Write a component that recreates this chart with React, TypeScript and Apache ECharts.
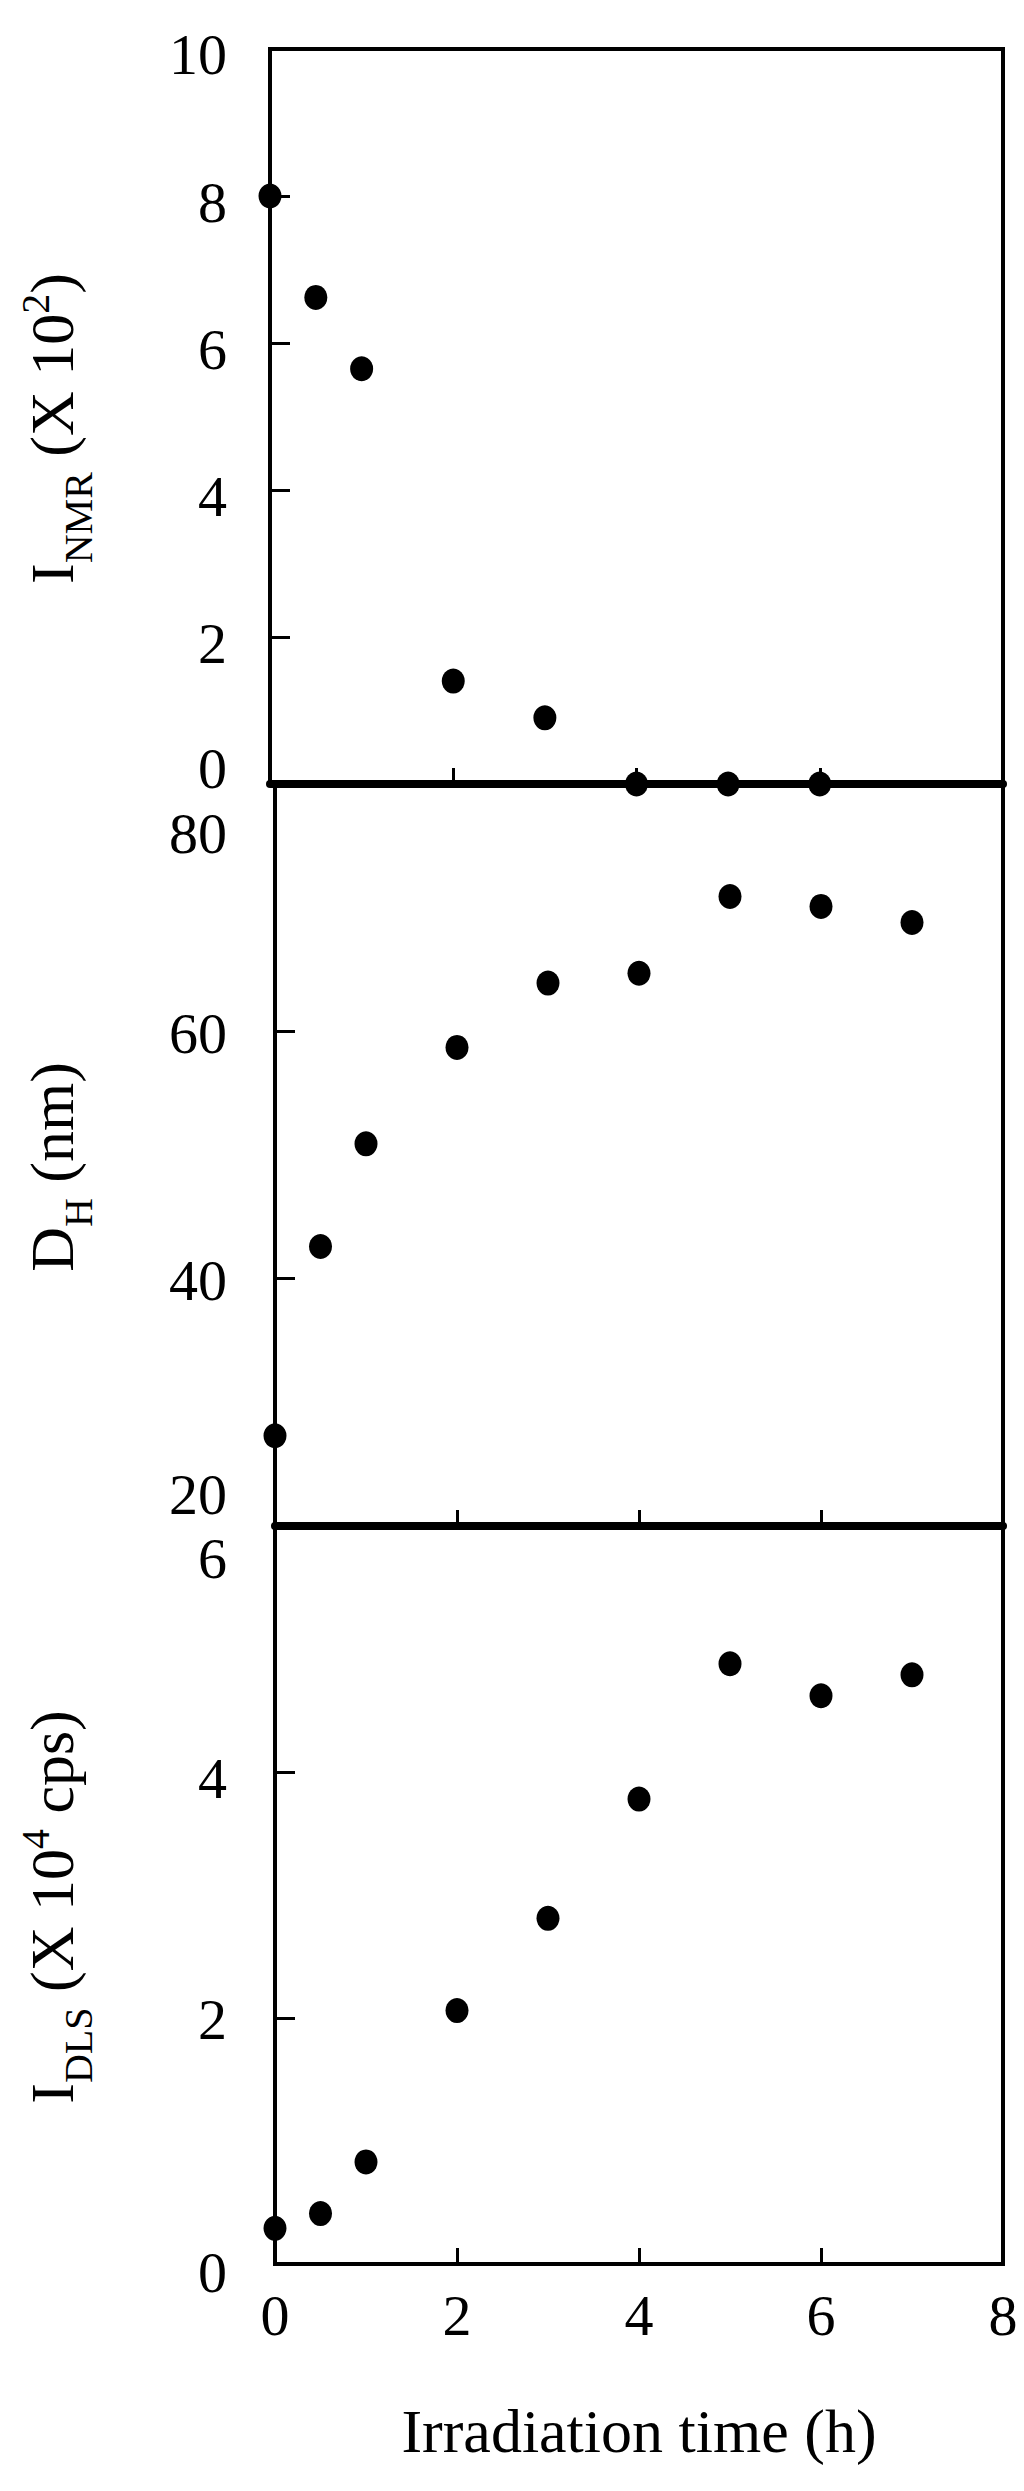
import React, { useEffect, useRef } from 'react'
import * as echarts from 'echarts'

// irradiation time (h) for each panel
const timeNmr = [0, 0.5, 1, 2, 3, 4, 5, 6]
const timeDh = [0, 0.5, 1, 2, 3, 4, 5, 6, 7]
const timeDls = [0, 0.5, 1, 2, 3, 4, 5, 6, 7]

// I_NMR (x 10^2)
const nmrValues = [8.0, 6.62, 5.65, 1.4, 0.9, 0, 0, 0]
// D_H (nm)
const dhValues = [27.3, 42.6, 50.9, 58.7, 63.9, 64.7, 70.9, 70.1, 68.8]
// I_DLS (x 10^4 cps)
const dlsValues = [0.29, 0.41, 0.83, 2.06, 2.81, 3.78, 4.88, 4.62, 4.79]

const xTicks = { min: 0, max: 8, interval: 2 }
const yRanges = [
  { min: 0, max: 10, interval: 2 },
  { min: 20, max: 80, interval: 20 },
  { min: 0, max: 6, interval: 2 }
]

const FONT = '"Liberation Serif", "Times New Roman", serif'

// label shift (px, + is down) per value, per panel
const labelShift: Record<number, number>[] = [
  { 10: 5, 8: 6, 6: 6, 4: 6, 2: 6, 0: -16 },
  { 80: 49, 60: 2, 40: 2, 20: -32 },
  { 6: 32, 4: 6, 2: 1, 0: 8 }
]

const names = [
  '{n|I}{sub|NMR}{n| (X 10}{sup|2}{n|)}',
  '{n|D}{sub|H}{n| (nm)}',
  '{n|I}{sub|DLS}{n| (X 10}{sup|4}{n| cps)}'
]

const App: React.FC = () => {
  const chartRef = useRef<HTMLDivElement>(null)

  useEffect(() => {
    if (!chartRef.current) return
    const chart = echarts.init(chartRef.current, undefined, { renderer: 'svg' })

    const shiftRich: any = {}
    for (let s = -60; s <= 60; s++) {
      const key = 's' + (s < 0 ? 'm' + -s : s)
      shiftRich[key] = {
        fontSize: 58,
        fontFamily: FONT,
        color: '#000',
        padding: s >= 0 ? [2 * s, 0, 0, 0] : [0, 0, -2 * s, 0]
      }
    }
    const keyFor = (s: number) => 's' + (s < 0 ? 'm' + -s : s)

    const nameRich = {
      n: { fontSize: 62, fontFamily: FONT, color: '#000', lineHeight: 62, verticalAlign: 'middle' },
      sub: { fontSize: 40, fontFamily: FONT, color: '#000', height: 10, lineHeight: 10, verticalAlign: 'bottom' },
      sup: { fontSize: 40, fontFamily: FONT, color: '#000', height: 28, lineHeight: 28, verticalAlign: 'top' }
    }

    const grids = [
      { left: 270, right: 21, top: 49, height: 735 },
      { left: 275, right: 21, top: 784, height: 742 },
      { left: 275, right: 21, top: 1526, height: 738 }
    ]

    const option = {
      animation: false,
      grid: grids.map(g => ({ ...g, show: true, borderColor: '#000', borderWidth: 4 })),
      xAxis: [0, 1, 2].map(i => ({
        gridIndex: i,
        type: 'value',
        ...xTicks,
        axisLine: { show: true, lineStyle: { color: '#000', width: i < 2 ? 8 : 4 } },
        axisTick: { show: true, inside: true, length: 16, lineStyle: { color: '#000', width: 3 } },
        axisLabel: {
          show: i === 2,
          margin: 22,
          fontSize: 58,
          fontFamily: FONT,
          color: '#000'
        },
        splitLine: { show: false },
        name: i === 2 ? 'Irradiation time (h)' : '',
        nameLocation: 'middle',
        nameGap: 136,
        nameTextStyle: { fontSize: 62, fontFamily: FONT, color: '#000' }
      })),
      yAxis: [0, 1, 2].map(i => ({
        gridIndex: i,
        type: 'value',
        ...yRanges[i],
        axisLine: { show: false },
        axisTick: { show: true, inside: true, length: 20, lineStyle: { color: '#000', width: 3 } },
        axisLabel: {
          margin: i === 0 ? 43 : 48,
          fontSize: 58,
          fontFamily: FONT,
          color: '#000',
          formatter: (v: number) => `{${keyFor(labelShift[i][v] ?? 0)}|${v}}`,
          rich: shiftRich
        },
        splitLine: { show: false },
        name: names[i],
        nameLocation: 'middle',
        nameRotate: 90,
        nameGap: i === 0 ? 187 : 192,
        nameTextStyle: {
          fontSize: 62,
          fontFamily: FONT,
          color: '#000',
          padding: [0, 24, 0, 0],
          rich: nameRich
        }
      })),
      series: [
        { x: timeNmr, y: nmrValues },
        { x: timeDh, y: dhValues },
        { x: timeDls, y: dlsValues }
      ].map((s, i) => ({
        type: 'scatter',
        xAxisIndex: i,
        yAxisIndex: i,
        symbol: 'circle',
        symbolSize: [23, 25],
        clip: false,
        itemStyle: { color: '#000', opacity: 1 },
        data: s.x.map((t, k) => [t, s.y[k]])
      }))
    }

    chart.setOption(option)
    return () => {
      chart.dispose()
    }
  }, [])

  return (
    <div
      ref={chartRef}
      style={{ position: 'absolute', left: 0, top: 0, width: 1024, height: 2491, background: '#fff' }}
    />
  )
}

export default App
